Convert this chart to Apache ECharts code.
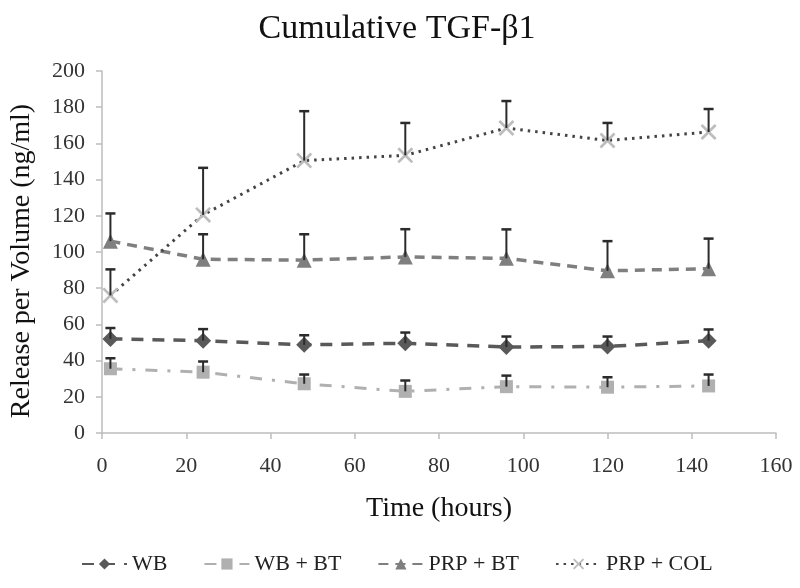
<!DOCTYPE html>
<html><head><meta charset="utf-8">
<script src="https://cdn.jsdelivr.net/npm/echarts@6/dist/echarts.min.js"></script>
<style>html,body{margin:0;padding:0;background:#fff}#c{width:800px;height:588px}</style>
</head><body><div id="c"></div>
<script>
const hours = [2, 24, 48, 72, 96, 120, 144];
const seriesNames = ['WB', 'WB + BT', 'PRP + BT', 'PRP + COL'];
const wb = [52, 51, 48.7, 49.6, 47.5, 47.8, 51];
const wbErr = [58, 57.4, 54, 55.5, 53.3, 53.3, 57.2];
const wbbt = [35.5, 33.6, 27.2, 23, 25.6, 25.3, 26];
const wbbtErr = [41.3, 39.5, 32.3, 29, 31.7, 30.8, 32.3];
const prpbt = [106, 96, 95.5, 97.3, 96.5, 89.6, 90.8];
const prpbtErr = [121.3, 109.8, 109.8, 112.6, 112.5, 106, 107.4];
const prpcol = [76, 120.5, 150.5, 153.4, 168.5, 161.6, 166.3];
const prpcolErr = [90.4, 146.5, 177.8, 171.3, 183.4, 171.3, 179];
const xTicks = [0, 160, 20];
const yTicks = [0, 200, 20];

const chart = echarts.init(document.getElementById('c'), null, {renderer: 'canvas'});
const serif = '"Liberation Serif", "DejaVu Serif", serif';

function pairs(vals) { return hours.map((h, i) => [h, vals[i]]); }
function errData(vals, tops) { return hours.map((h, i) => [h, vals[i], tops[i]]); }

function errSeries(vals, tops) {
  return {
    type: 'custom',
    data: errData(vals, tops),
    z: 5,
    silent: true,
    renderItem: function (params, api) {
      const p0 = api.coord([api.value(0), api.value(1)]);
      const p1 = api.coord([api.value(0), api.value(2)]);
      const cw = 5;
      return {
        type: 'group',
        children: [
          {type: 'line', shape: {x1: p0[0], y1: p0[1], x2: p1[0], y2: p1[1]}, style: {stroke: '#2b2b2b', lineWidth: 2}},
          {type: 'line', shape: {x1: p1[0] - cw, y1: p1[1], x2: p1[0] + cw, y2: p1[1]}, style: {stroke: '#2b2b2b', lineWidth: 2.5}}
        ]
      };
    }
  };
}

const xMark = 'path://M0,1.2L1.2,0L5,3.8L8.8,0L10,1.2L6.2,5L10,8.8L8.8,10L5,6.2L1.2,10L0,8.8L3.8,5Z';

const option = {
  backgroundColor: '#fff',
  animation: false,
  title: {
    text: 'Cumulative TGF-β1',
    left: 392, top: 7, textAlign: 'center',
    textStyle: {fontFamily: serif, fontSize: 34, fontWeight: 'normal', color: '#111'}
  },
  legend: {
    bottom: 8, left: 76,
    itemWidth: 45, itemHeight: 14, itemGap: 36,
    textStyle: {fontFamily: serif, fontSize: 22, color: '#222'},
    data: seriesNames
  },
  grid: {left: 100, right: 24, top: 71, bottom: 155},
  xAxis: {
    type: 'value', min: xTicks[0], max: xTicks[1], interval: xTicks[2],
    name: 'Time (hours)', nameLocation: 'middle', nameGap: 62,
    nameTextStyle: {fontFamily: serif, fontSize: 28, color: '#111'},
    axisLine: {lineStyle: {color: '#bdbdbd', width: 1.5}},
    axisTick: {show: true, length: 6, lineStyle: {color: '#bdbdbd', width: 1.5}},
    axisLabel: {fontFamily: serif, fontSize: 22, color: '#333', margin: 22},
    splitLine: {show: false}
  },
  yAxis: {
    type: 'value', min: yTicks[0], max: yTicks[1], interval: yTicks[2],
    name: 'Release per Volume (ng/ml)', nameLocation: 'middle', nameGap: 66,
    nameTextStyle: {fontFamily: serif, fontSize: 28, color: '#111', padding: [0, 18, 0, 0]},
    axisLine: {show: true, lineStyle: {color: '#bdbdbd', width: 1.5}},
    axisTick: {show: true, length: 6, lineStyle: {color: '#bdbdbd', width: 1.5}},
    axisLabel: {fontFamily: serif, fontSize: 22, color: '#333', margin: 17},
    splitLine: {show: false}
  },
  series: [
    {
      name: seriesNames[0], type: 'line', data: pairs(wb), z: 4,
      symbol: 'diamond', symbolSize: 16,
      itemStyle: {color: '#595959'},
      lineStyle: {color: '#595959', width: 3.5, type: [12, 9]}
    },
    {
      name: seriesNames[1], type: 'line', data: pairs(wbbt), z: 4,
      symbol: 'rect', symbolSize: 13,
      itemStyle: {color: '#b0b0b0'},
      lineStyle: {color: '#b0b0b0', width: 3, type: [12, 10, 3, 10]}
    },
    {
      name: seriesNames[2], type: 'line', data: pairs(prpbt), z: 4,
      symbol: 'triangle', symbolSize: 15,
      itemStyle: {color: '#7f7f7f'},
      lineStyle: {color: '#7f7f7f', width: 3.5, type: [10, 7]}
    },
    {
      name: seriesNames[3], type: 'line', data: pairs(prpcol), z: 4,
      symbol: xMark, symbolSize: 16,
      itemStyle: {color: '#bdbdbd'},
      lineStyle: {color: '#444', width: 3, type: [2.5, 5]}
    },
    errSeries(wb, wbErr),
    errSeries(wbbt, wbbtErr),
    errSeries(prpbt, prpbtErr),
    errSeries(prpcol, prpcolErr)
  ]
};
chart.setOption(option);
</script></body></html>
